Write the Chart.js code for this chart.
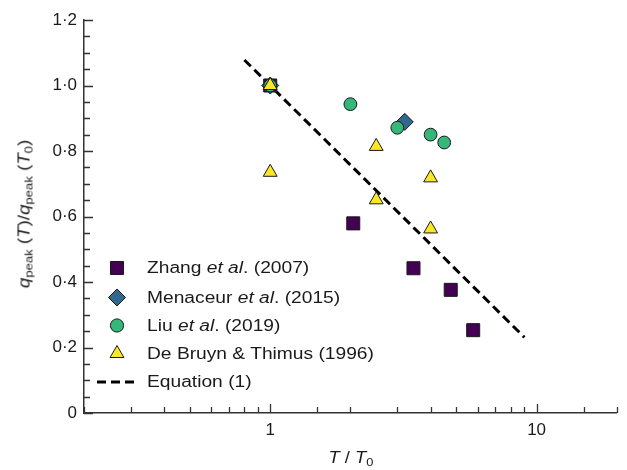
<!DOCTYPE html>
<html>
<head>
<meta charset="utf-8">
<script src="https://cdn.jsdelivr.net/npm/chart.js@4.4.1/dist/chart.umd.min.js"></script>
<style>
  body { margin: 0; background: #fff; }
  #wrap { position: relative; width: 627px; height: 470px; font-family: "Liberation Sans", Arial, sans-serif; color: #1a1a1a; }
  #chart { position: absolute; left: 0; top: 0; }
  .txt { position: absolute; white-space: nowrap; font-size: 16px; line-height: 16px; }
  .txt sub { font-size: 0.7em; position: relative; top: 0.3em; vertical-align: baseline; }
  .leg { left: 147px; transform: scaleX(1.2); transform-origin: left center; }
</style>
</head>
<body>
<div id="wrap">
  <canvas id="chart" width="627" height="470"></canvas>
  <div class="txt" id="ytitle" style="left:25px; top:214px; transform: translate(-50%,-50%) rotate(-90deg) scaleX(1.17);"><i>q</i><sub>peak</sub> (<i>T</i>)/<i>q</i><sub>peak</sub> (<i>T</i><sub>0</sub>)</div>
  <div class="txt" id="xtitle" style="left:351px; top:458px; transform: translate(-50%,-50%) scaleX(1.15);"><i>T</i> / <i>T</i><sub>0</sub></div>
  <div class="txt leg" style="top:260px;">Zhang <i>et al</i>. (2007)</div>
  <div class="txt leg" style="top:289.5px;">Menaceur <i>et al</i>. (2015)</div>
  <div class="txt leg" style="top:317.5px;">Liu <i>et al</i>. (2019)</div>
  <div class="txt leg" style="top:345.5px;">De Bruyn &amp; Thimus (1996)</div>
  <div class="txt leg" style="top:374px;">Equation (1)</div>
</div>
<script>
// T/T0 and normalised peak values
const zhangX = [1, 2.05, 3.45, 4.76, 5.78];
const zhangY = [1.0, 0.579, 0.442, 0.376, 0.253];

const menaceurX = [1, 3.2];
const menaceurY = [1.0, 0.889];

const liuX = [1, 2, 3, 4, 4.5];
const liuY = [1.0, 0.943, 0.871, 0.850, 0.826];

const bruynX = [1, 1, 2.5, 2.5, 4, 4];
const bruynY = [1.0, 0.735, 0.814, 0.651, 0.718, 0.562];

// ends of the Equation (1) line
const eqX = [0.8, 9.0];
const eqY = [1.078, 0.231];

const xTickLabels = [1, 10];

const pts = (xs, ys) => xs.map((x, i) => ({ x, y: ys[i] }));
const edge = '#1a1a1a';
const tickFont = { family: '"Liberation Sans", Arial, sans-serif', size: 17 };

const series = [
  { label: 'Zhang et al. (2007)', data: pts(zhangX, zhangY), pointStyle: 'rect', pointRadius: 9.2, backgroundColor: '#440154', order: 5 },
  { label: 'Menaceur et al. (2015)', data: pts(menaceurX, menaceurY), pointStyle: 'rectRot', pointRadius: 8.5, backgroundColor: '#31688e', order: 4 },
  { label: 'Liu et al. (2019)', data: pts(liuX, liuY), pointStyle: 'circle', pointRadius: 6.4, backgroundColor: '#35b779', order: 3 },
  { label: 'De Bruyn & Thimus (1996)', data: pts(bruynX, bruynY), pointStyle: 'triangle', pointRadius: 8, backgroundColor: '#fde725', order: 2 },
];
series.forEach(s => {
  s.borderColor = edge;
  s.borderWidth = 1;
  s.pointHoverRadius = s.pointRadius;
  s.showLine = false;
});

const eqLine = {
  label: 'Equation (1)',
  data: pts(eqX, eqY),
  showLine: true,
  borderColor: '#000',
  borderWidth: 3,
  borderDash: [9, 5],
  pointRadius: 0,
  fill: false,
  order: 6,
};

// ticks point into the plot, longer on labelled values
const inwardTicks = {
  id: 'inwardTicks',
  beforeDatasetsDraw(chart) {
    const ctx = chart.ctx;
    const xs = chart.scales.x, ys = chart.scales.y;
    const area = chart.chartArea;
    ctx.save();
    ctx.strokeStyle = '#333';
    ctx.lineWidth = 1.3;
    ctx.beginPath();
    xs.ticks.forEach(t => {
      const px = Math.round(xs.getPixelForValue(t.value)) + 0.5;
      const len = xTickLabels.includes(t.value) ? 9 : 6;
      ctx.moveTo(px, area.bottom);
      ctx.lineTo(px, area.bottom - len);
    });
    ys.ticks.forEach(t => {
      const py = Math.round(ys.getPixelForValue(t.value)) + 0.5;
      const major = Math.abs(t.value * 5 - Math.round(t.value * 5)) < 1e-6;
      ctx.moveTo(area.left, py);
      ctx.lineTo(area.left + (major ? 9 : 6), py);
    });
    ctx.stroke();
    ctx.restore();
  }
};

// legend symbols, text is in the html overlay
const legendMarks = {
  id: 'legendMarks',
  afterDraw(chart) {
    const ctx = chart.ctx;
    const rows = [268, 297.5, 325.5, 353.5];
    ctx.save();
    series.forEach((s, i) => {
      ctx.fillStyle = s.backgroundColor;
      ctx.strokeStyle = edge;
      ctx.lineWidth = 1;
      Chart.helpers.drawPoint(ctx, {
        pointStyle: s.pointStyle,
        radius: s.pointStyle === 'circle' ? 6.6 : s.pointRadius,
        rotation: 0,
        borderWidth: 1
      }, 117, rows[i]);
    });
    ctx.strokeStyle = '#000';
    ctx.lineWidth = 3;
    ctx.setLineDash([9, 5]);
    ctx.beginPath();
    ctx.moveTo(97, 382);
    ctx.lineTo(135, 382);
    ctx.stroke();
    ctx.restore();
  }
};

const fmtY = v => {
  if (Math.abs(v * 5 - Math.round(v * 5)) > 1e-6) return '';
  if (Math.abs(v) < 1e-9) return '0';
  return v.toFixed(1).replace('.', '·');
};

new Chart(document.getElementById('chart'), {
  type: 'scatter',
  data: { datasets: [...series, eqLine] },
  options: {
    responsive: false,
    animation: false,
    devicePixelRatio: 1,
    layout: { padding: { top: 20, right: 10, left: 0, bottom: 0 } },
    plugins: { legend: { display: false }, tooltip: { enabled: false } },
    scales: {
      x: {
        type: 'logarithmic',
        min: 0.2,
        max: 20,
        grid: { display: false, drawTicks: false },
        border: { display: true, color: '#333', width: 1.5 },
        ticks: {
          autoSkip: false,
          maxRotation: 0,
          padding: 7,
          color: '#1a1a1a',
          font: tickFont,
          callback: v => xTickLabels.includes(v) ? String(v) : ''
        },
        afterFit: s => { s.height = 57; }
      },
      y: {
        min: 0,
        max: 1.2,
        grid: { display: false, drawTicks: false },
        border: { display: true, color: '#333', width: 1.5 },
        ticks: {
          stepSize: 0.05,
          autoSkip: false,
          padding: 7,
          color: '#1a1a1a',
          font: tickFont,
          callback: fmtY
        },
        afterFit: s => { s.width = 84; }
      }
    }
  },
  plugins: [inwardTicks, legendMarks]
});
</script>
</body>
</html>
